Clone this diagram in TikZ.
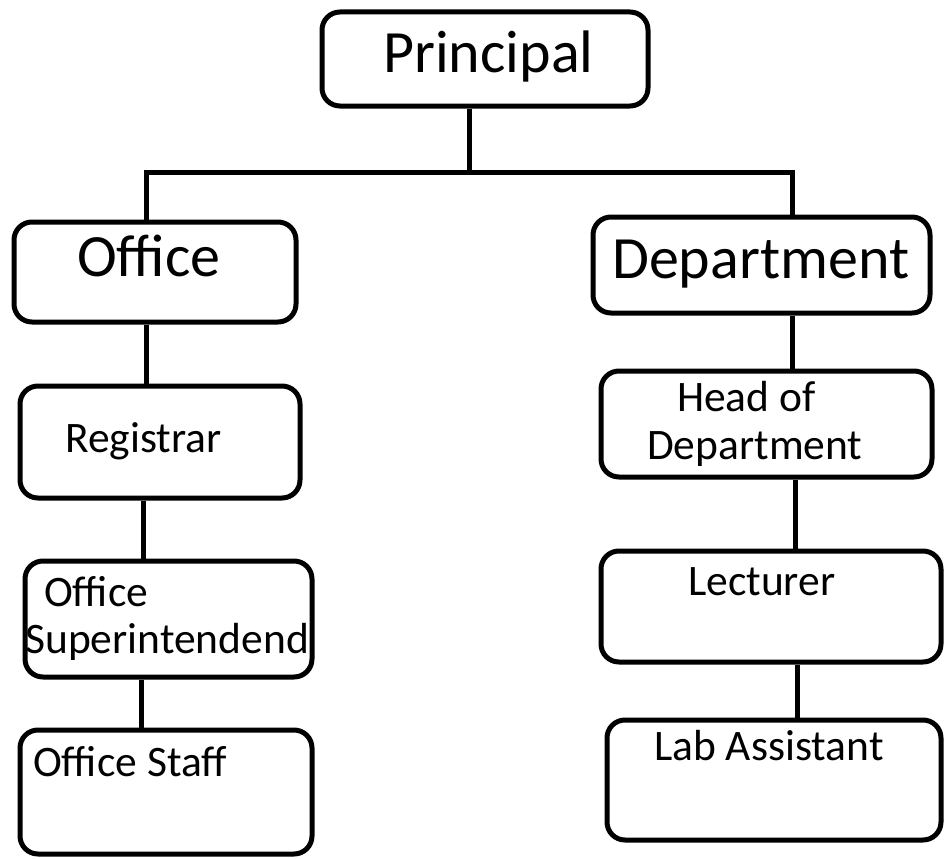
\documentclass[tikz,border=0pt]{standalone}
\usepackage{fontspec}
\setmainfont{Carlito}
\begin{document}
\begin{tikzpicture}[x=1pt,y=-1pt,
  box/.style={draw=black,line width=5pt,rounded corners=18pt,inner sep=0pt,fill=none},
  big/.style={anchor=base west,inner sep=0pt,font=\fontsize{60}{72}\selectfont},
  small/.style={anchor=base west,inner sep=0pt,font=\fontsize{43.5}{52}\selectfont},
  conn/.style={draw=black,line width=5pt}]
\fill[white] (0,0) rectangle (945,859);
\useasboundingbox (0,0) rectangle (945,859);
% boxes
\node[box,minimum width=326pt,minimum height=94pt] (principal) at (485,59) {};
\node[box,minimum width=282pt,minimum height=100pt] (office) at (155,272) {};
\node[box,minimum width=337pt,minimum height=96pt] (dept) at (761.5,265) {};
\node[box,minimum width=280pt,minimum height=112pt] (registrar) at (160,442) {};
\node[box,minimum width=331pt,minimum height=106pt] (hod) at (766.5,424) {};
\node[box,minimum width=287pt,minimum height=116pt] (offsup) at (168.5,619) {};
\node[box,minimum width=340pt,minimum height=111pt] (lecturer) at (771,606.5) {};
\node[box,minimum width=292pt,minimum height=124pt] (offstaff) at (166,792) {};
\node[box,minimum width=334pt,minimum height=120pt] (lab) at (774,780) {};
% texts
\node[big] (tprincipal) at (383,73) {Principal};
\node[big] (toffice) at (77,276) {Office};
\node[big] (tdept) at (612,278) {Department};
\node[small] (tregistrar) at (65,452) {Registrar};
\node[small] (toffsupa) at (44,606) {Office};
\node[small] (toffsupb) at (25,653) {Superintendend};
\node[small] (toffstaff) at (33,776) {Office Staff};
\node[small] (thoda) at (677,411) {Head of};
\node[small] (thodb) at (647,459) {Department};
\node[small] (tlecturer) at (688,595) {Lecturer};
\node[small] (tlab) at (654,760) {Lab Assistant};
% connector points
\coordinate (pj) at (469,172);
\coordinate (lj) at (146,172);
\coordinate (rj) at (792,172);
\coordinate (c1) at (146,0);
\coordinate (c2) at (143,0);
\coordinate (c3) at (141,0);
\coordinate (c4) at (792,0);
\coordinate (c5) at (795,0);
\coordinate (c6) at (797,0);
% connectors
\draw[conn] (principal.south -| pj) -- (pj);
\draw[conn] (office.north -| lj) -- (lj) -- (rj) -- (dept.north -| rj);
\draw[conn] (office.south -| c1) -- (registrar.north -| c1);
\draw[conn] (registrar.south -| c2) -- (offsup.north -| c2);
\draw[conn] (offsup.south -| c3) -- (offstaff.north -| c3);
\draw[conn] (dept.south -| c4) -- (hod.north -| c4);
\draw[conn] (hod.south -| c5) -- (lecturer.north -| c5);
\draw[conn] (lecturer.south -| c6) -- (lab.north -| c6);
\end{tikzpicture}
\end{document}
